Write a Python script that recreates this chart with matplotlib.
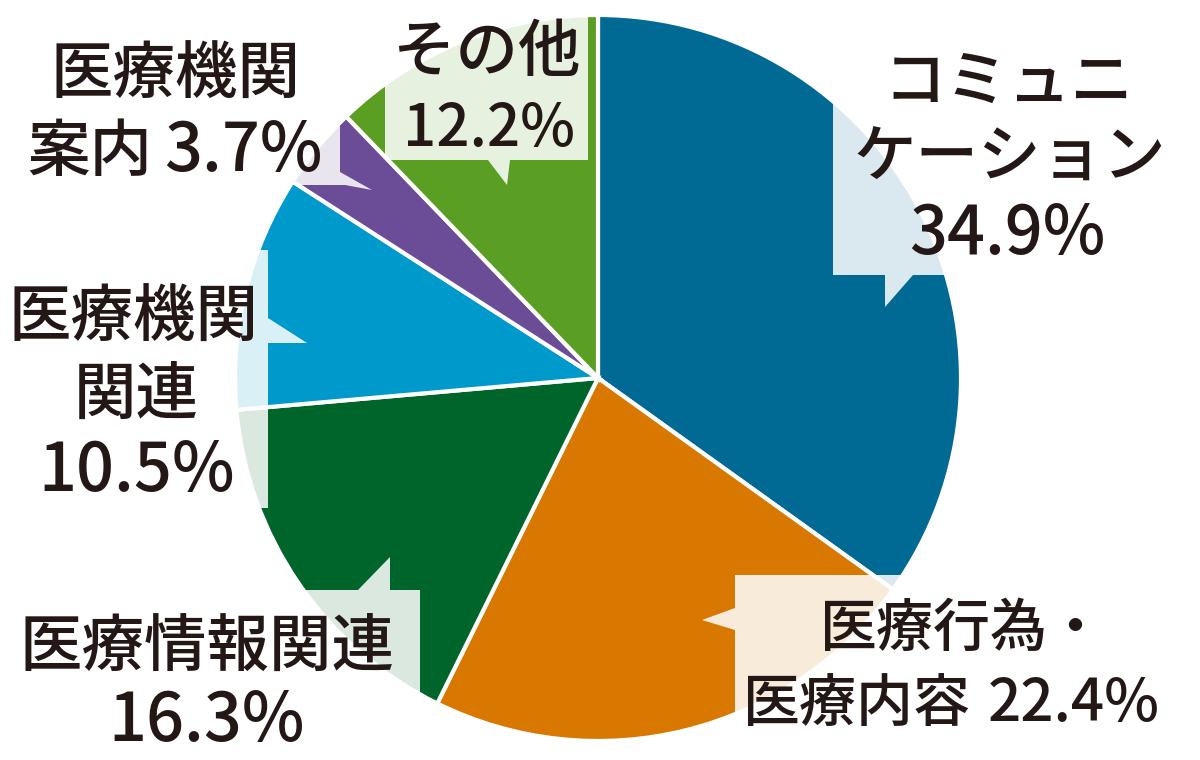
import matplotlib
matplotlib.use("Agg")
import matplotlib.pyplot as plt
from matplotlib.patches import Polygon

plt.rcParams['font.family'] = ['Noto Sans CJK JP', 'DejaVu Sans']

# data (clockwise from 12 o'clock)
categories = ['コミュニケーション', '医療行為・医療内容', '医療情報関連',
              '医療機関関連', '医療機関案内', 'その他']
shares = [34.9, 22.4, 16.3, 10.5, 3.7, 12.2]
slice_colors = ['#006A94', '#D97800', '#00652B', '#0099CC', '#6B4C96', '#5B9E24']

W, H = 1200, 760
TXT = '#231815'


def P(x, y):
    # pixel position (origin top-left) -> data coords
    return (x, H - y)


fig = plt.figure(figsize=(12, 7.6), dpi=100)
ax = fig.add_axes([0, 0, 1, 1])

ax.pie(shares, colors=slice_colors, startangle=90, counterclock=False,
       center=P(598, 378), radius=363,
       wedgeprops=dict(edgecolor='white', linewidth=3))
ax.set_xlim(0, W)
ax.set_ylim(0, H)
ax.set_aspect('equal')
ax.axis('off')

# translucent callout boxes with little pointers into the slices
boxes = [
    [(833, -20), (1220, -20), (1220, 275), (913, 275), (885, 307), (885, 275), (833, 275)],
    [(735, 575), (1220, 575), (1220, 780), (735, 780), (735, 630), (702, 620), (735, 608)],
    [(-20, 590), (358, 590), (390, 557), (390, 590), (420, 590), (420, 780), (-20, 780)],
    [(-20, 250), (268, 250), (268, 318), (307, 343), (268, 343), (268, 508), (-20, 508)],
    [(-20, -20), (340, -20), (340, 172), (372, 190), (345, 185), (-20, 185)],
    [(385, -20), (588, -20), (588, 160), (510, 160), (507, 185), (488, 160), (385, 160)],
]
for b in boxes:
    ax.add_patch(Polygon([P(x, y) for x, y in b], closed=True,
                         facecolor='white', edgecolor='none', alpha=0.86, zorder=3))

KS = 45   # kana / kanji size
NS = 48   # number size
pct = ['{:.1f}%'.format(v) for v in shares]


def put(x, y, s, size, ha='center'):
    # y is visual centre of the line in pixels
    ax.text(*P(x, y + 24), s, fontsize=size, ha=ha, va='baseline',
            color=TXT, fontweight='medium', zorder=5)


# コミュニケーション
put(1008, 77, 'コミュニ', KS)
put(1010, 153, 'ケーション', KS)
put(1007, 230, pct[0], NS)

# 医療行為・医療内容 (set a little narrower)
put(962, 622, '医療行為・', 41)
put(857, 697, '医療内容', 41)
put(1160, 697, pct[1], 42, ha='right')

# 医療情報関連
put(207, 642, categories[2], KS)
put(207, 717, pct[2], NS)

# 医療機関関連
put(134, 313, '医療機関', KS)
put(136, 390, '関連', KS)
put(137, 467, pct[3], NS)

# 医療機関案内
put(176, 70, '医療機関', KS)
put(90, 147, '案内', KS)
put(323, 147, pct[4], NS, ha='right')

# その他
put(487, 47, categories[5], KS)
put(489, 122, pct[5], 42)

fig.savefig('out.png', dpi=100)
